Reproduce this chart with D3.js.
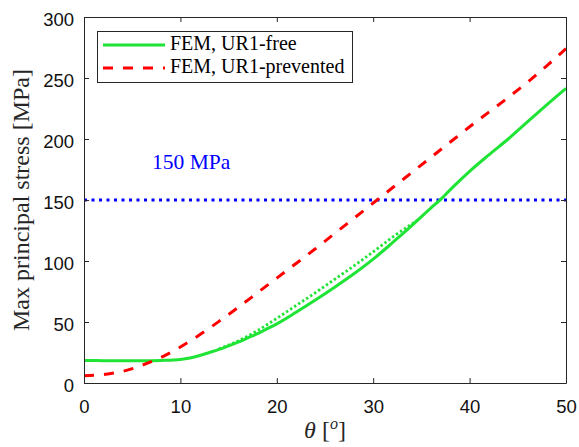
<!DOCTYPE html>
<html><head><meta charset="utf-8">
<script src="https://cdn.jsdelivr.net/npm/d3@7"></script>
<style>body{margin:0;background:#fff}svg{display:block}</style>
</head><body><svg id="c" width="579" height="447"></svg>
<script>
// ---- data ----
const thetaFree  = [0, 2, 4, 6, 8, 10, 11, 12, 13, 14, 15, 16, 17, 18, 19, 20, 22, 24, 26, 28, 30, 32, 34, 36, 37, 38, 40, 42, 44, 46, 48, 50];
const stressFree = [18.5, 18.3, 18.2, 18.2, 18.5, 19.3, 20.5, 22.5, 25, 27.5, 30.5, 33.5, 37, 40.5, 44.5, 48.5, 58, 68, 78.5, 89.5, 101.5, 115, 129, 143.5, 150.5, 158.5, 173.5, 187, 200, 214, 228, 241.5];
const thetaPrev  = [0, 2, 4, 6, 8, 10, 12, 14, 16, 18, 20, 22, 24, 26, 28, 30, 32, 34, 36, 38, 40, 42, 44, 46, 48, 50];
const stressPrev = [6, 7, 9.5, 14.5, 21, 29.5, 39.5, 50.5, 62, 74, 86, 98, 110, 122.5, 135, 147.5, 160, 172.5, 185, 197.5, 210, 222, 234, 246.5, 260, 274];
const thetaDot   = [14, 16, 18, 20, 22, 24, 26, 28, 30, 32, 34.8];
const stressDot  = [28, 34.5, 43, 53, 63.5, 74, 85, 96, 107.5, 119.5, 134.5];
const limitValue = 150;
const limitLabel = "150 MPa";
const xTicks = [0, 10, 20, 30, 40, 50];
const yTicks = [0, 50, 100, 150, 200, 250, 300];
const legendLabels = ["FEM, UR1-free", "FEM, UR1-prevented"];

// ---- layout ----
const svg = d3.select("#c");
const L = 84, R = 566, T = 17, B = 383;
const x = d3.scaleLinear().domain([0, 50]).range([L, R]);
const y = d3.scaleLinear().domain([0, 300]).range([B, T]);
const axisCol = "#262626";
const green = "#1fe335", red = "#ff0000", blue = "#0000ff";
const serif = "'Liberation Serif', 'DejaVu Serif', serif";
const sans = "'Liberation Sans', Arial, sans-serif";

// ---- lines ----
const line = d3.line().x(d => x(d[0])).y(d => y(d[1])).curve(d3.curveMonotoneX);
const g = svg.append("g");

g.append("path").datum(x.domain().map(t => [t, limitValue]))
  .attr("d", line).attr("fill", "none").attr("stroke", blue)
  .attr("stroke-width", 3).attr("stroke-dasharray", "3,4.5");

g.append("path").datum(thetaDot.map((t, i) => [t, stressDot[i]]))
  .attr("d", line).attr("fill", "none").attr("stroke", green)
  .attr("stroke-width", 2.8).attr("stroke-dasharray", "2.4,2.4");

g.append("path").datum(thetaFree.map((t, i) => [t, stressFree[i]]))
  .attr("d", line).attr("fill", "none").attr("stroke", green)
  .attr("stroke-width", 3);

g.append("path").datum(thetaPrev.map((t, i) => [t, stressPrev[i]]))
  .attr("d", line).attr("fill", "none").attr("stroke", red)
  .attr("stroke-width", 3).attr("stroke-dasharray", "10,10");

// ---- axes ----
function styleAxis(sel, hideText) {
  sel.selectAll("path.domain").attr("stroke", axisCol).attr("stroke-width", 1);
  sel.selectAll(".tick line").attr("stroke", axisCol).attr("stroke-width", 1);
  sel.selectAll(".tick text").attr("fill", "#111").style("font-family", sans).style("font-size", "18.5px");
  if (hideText) sel.selectAll(".tick text").remove();
}
const ax = svg.append("g");
ax.append("g").attr("transform", `translate(0,${B})`)
  .call(d3.axisBottom(x).tickValues(xTicks).tickSizeInner(-5).tickSizeOuter(0).tickPadding(17))
  .call(s => styleAxis(s, false));
ax.append("g").attr("transform", `translate(0,${T})`)
  .call(d3.axisTop(x).tickValues(xTicks).tickSizeInner(-5).tickSizeOuter(0))
  .call(s => styleAxis(s, true));
ax.append("g").attr("transform", `translate(${L},0)`)
  .call(d3.axisLeft(y).tickValues(yTicks).tickSizeInner(-5).tickSizeOuter(0).tickPadding(10))
  .call(s => { styleAxis(s, false); s.selectAll(".tick text").attr("dy", "0.44em"); });
ax.append("g").attr("transform", `translate(${R},0)`)
  .call(d3.axisRight(y).tickValues(yTicks).tickSizeInner(-5).tickSizeOuter(0))
  .call(s => styleAxis(s, true));
ax.selectAll("g").attr("font-family", null).attr("font-size", null);

// ---- annotation ----
svg.append("text").attr("x", 152).attr("y", 169)
  .attr("fill", blue).style("font-family", serif).style("font-size", "21.5px")
  .text(limitLabel);

// ---- axis titles ----
svg.append("text").attr("transform", `translate(29,${(T + B) / 2}) rotate(-90)`)
  .attr("text-anchor", "middle").attr("fill", axisCol)
  .style("font-family", serif).style("font-size", "24px")
  .text("Max principal stress [MPa]");

const xt = svg.append("text").attr("x", (L + R) / 2).attr("y", 438)
  .attr("text-anchor", "middle").attr("fill", axisCol)
  .style("font-family", serif).style("font-size", "24px");
xt.append("tspan").style("font-style", "italic").text("θ");
xt.append("tspan").text(" [");
xt.append("tspan").style("font-style", "italic").style("font-size", "16px").attr("dy", -9).text("o");
xt.append("tspan").attr("dy", 9).text("]");

// ---- legend ----
const lg = svg.append("g");
lg.append("rect").attr("x", 97.5).attr("y", 31.5).attr("width", 255).attr("height", 51)
  .attr("fill", "#fff").attr("stroke", axisCol).attr("stroke-width", 1);
const items = [
  {label: legendLabels[0], color: green, dash: null, y: 45},
  {label: legendLabels[1], color: red, dash: "10,10", y: 68}
];
items.forEach(it => {
  lg.append("line").attr("x1", 103).attr("x2", 165).attr("y1", it.y).attr("y2", it.y)
    .attr("stroke", it.color).attr("stroke-width", 3).attr("stroke-dasharray", it.dash);
  lg.append("text").attr("x", 170).attr("y", it.y + 5)
    .attr("fill", "#000").style("font-family", serif).style("font-size", "20px")
    .text(it.label);
});
</script>
</body></html>
